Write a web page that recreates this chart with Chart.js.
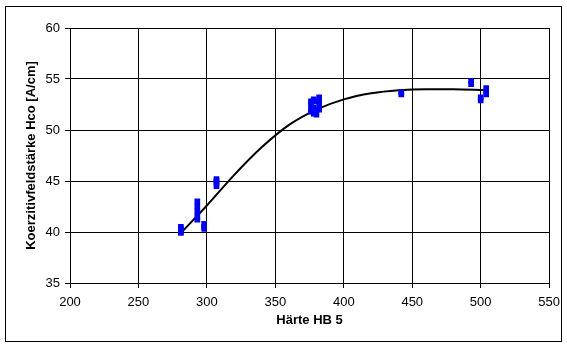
<!DOCTYPE html>
<html>
<head>
<meta charset="utf-8">
<script src="https://cdn.jsdelivr.net/npm/chart.js@4/dist/chart.umd.min.js"></script>
<style>
  body { margin: 0; background: #fff; }
  #rahmen { position: absolute; left: 5px; top: 6px; width: 555px; height: 334px; border: 1px solid #000; }
  #wrap { position: absolute; left: 0; top: 0; width: 567px; height: 347px; }
</style>
</head>
<body>
<div id="rahmen"></div>
<div id="wrap"><canvas id="grafik" width="567" height="347"></canvas></div>
<script>
// Messpunkte: Härte HB 5 und Koerzitivfeldstärke Hco
const haerte = [281, 281, 281, 281, 293, 293, 293, 293, 293, 298, 298, 298, 307, 307, 307, 307,
  376, 376, 376, 376, 378, 378, 378, 380, 380, 380, 382, 382, 382, 382,
  442, 442, 493, 493, 500, 500, 504, 504, 504];
const hco = [40.5, 40.3, 40.0, 39.9, 43.0, 42.5, 42.0, 41.5, 41.2, 40.8, 40.5, 40.3, 45.2, 45.0, 44.8, 44.5,
  52.8, 52.5, 52.0, 51.8, 53.0, 52.2, 51.6, 52.8, 52.0, 51.5, 53.2, 52.8, 52.5, 52.0,
  53.7, 53.5, 54.8, 54.5, 53.2, 52.9, 54.1, 53.8, 53.5];

// Trendlinie
const trendX = [281, 300, 320, 340, 360, 380, 400, 420, 440, 460, 480, 503];
const trendY = [39.9, 42.6, 45.6, 48.3, 50.5, 52.0, 53.0, 53.6, 53.9, 54.0, 54.0, 53.9];

const xTicks = [200, 250, 300, 350, 400, 450, 500, 550];
const yTicks = [35, 40, 45, 50, 55, 60];

const punkte = haerte.map((x, i) => ({ x: x, y: hco[i] }));
const trend = trendX.map((x, i) => ({ x: x, y: trendY[i] }));

const ctx = document.getElementById('grafik').getContext('2d');

new Chart(ctx, {
  type: 'scatter',
  data: {
    datasets: [
      {
        label: 'Trend',
        data: trend,
        showLine: true,
        borderColor: '#000',
        borderWidth: 2,
        pointRadius: 0,
        cubicInterpolationMode: 'monotone',
        order: 2
      },
      {
        label: 'Messwerte',
        data: punkte,
        pointStyle: 'rect',
        pointRadius: 4,
        backgroundColor: '#0000ff',
        borderColor: '#0000ff',
        borderWidth: 0,
        order: 1
      }
    ]
  },
  options: {
    responsive: false,
    animation: false,
    layout: { padding: { left: 0, top: 28, right: 15, bottom: 0 } },
    plugins: {
      legend: { display: false },
      tooltip: { enabled: false }
    },
    scales: {
      x: {
        type: 'linear',
        min: 200,
        max: 550,
        afterFit: s => { s.height = 64; },
        afterBuildTicks: s => { s.ticks = xTicks.map(v => ({ value: v })); },
        ticks: {
          color: '#000',
          padding: 7,
          font: { family: 'Liberation Sans, Arial', size: 13 }
        },
        grid: { color: '#000', lineWidth: 1, tickLength: 5 },
        border: { color: '#000' },
        title: {
          display: true,
          text: 'Härte HB 5',
          color: '#000',
          padding: { top: 0, bottom: 19 },
          font: { family: 'Liberation Sans, Arial', size: 13, weight: 'bold' }
        }
      },
      y: {
        type: 'linear',
        min: 35,
        max: 60,
        afterFit: s => { s.width = 70; },
        afterBuildTicks: s => { s.ticks = yTicks.map(v => ({ value: v })); },
        ticks: {
          color: '#000',
          padding: 5,
          font: { family: 'Liberation Sans, Arial', size: 13 }
        },
        grid: { color: '#000', lineWidth: 1, tickLength: 5 },
        border: { color: '#000' },
        title: {
          display: true,
          text: 'Koerzitivfeldstärke Hco [A/cm]',
          color: '#000',
          padding: { top: 24, bottom: 0 },
          font: { family: 'Liberation Sans, Arial', size: 13, weight: 'bold' }
        }
      }
    }
  }
});
</script>
</body>
</html>
